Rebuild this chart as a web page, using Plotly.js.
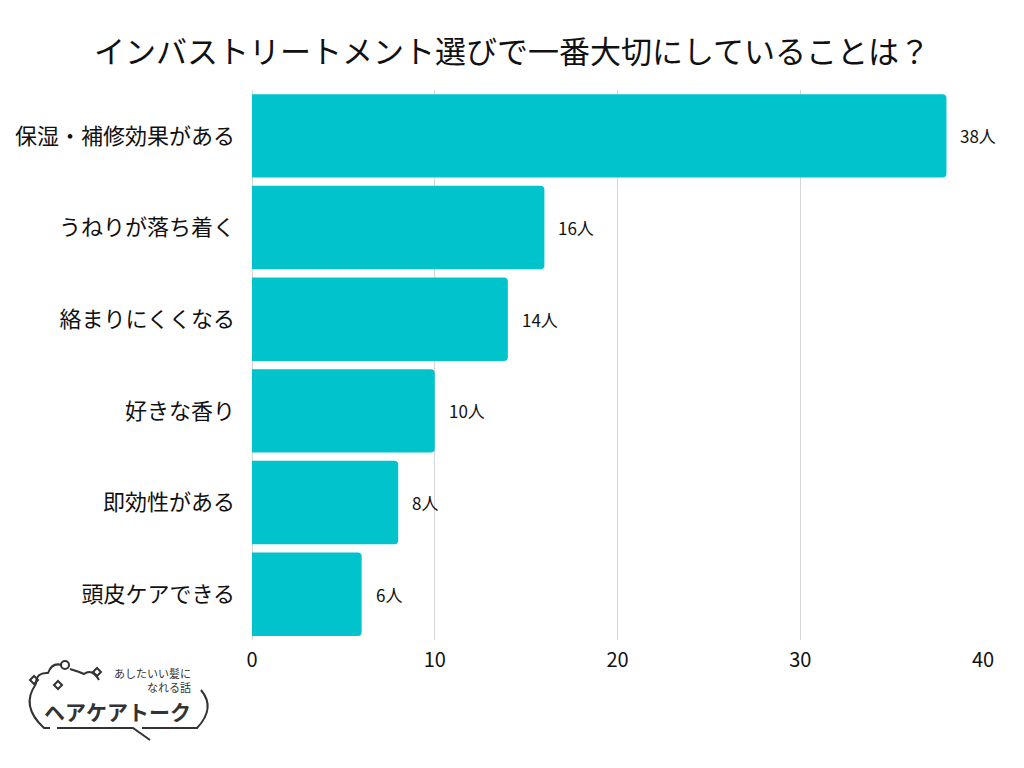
<!DOCTYPE html>
<html>
<head>
<meta charset="utf-8">
<script src="https://cdn.plot.ly/plotly-3.0.1.min.js"></script>
<style>
  html, body { margin: 0; padding: 0; background: #fff; }
  #chart { width: 1024px; height: 768px; }
</style>
</head>
<body>
<div id="chart"></div>
<script>
// 回答項目と人数
const categories = ['保湿・補修効果がある', 'うねりが落ち着く', '絡まりにくくなる', '好きな香り', '即効性がある', '頭皮ケアできる'];
const counts = [38, 16, 14, 10, 8, 6];
const unit = '人';
const tickValues = [0, 10, 20, 30, 40];

const FONT = '"Noto Sans CJK JP", "Noto Sans", sans-serif';
const BAR_COLOR = '#00c3cb';

// plot area in pixels (for placing the logo in paper coords)
const M = { l: 252, r: 41, t: 90, b: 128 };
const W = 1024, H = 768;
const PW = W - M.l - M.r, PH = H - M.t - M.b;
const px = x => (x - M.l) / PW;
const py = y => (H - M.b - y) / PH;
function path(cmds) {
    // cmds: [['M', x, y], ['Q', cx, cy, x, y], ...] in pixels
    return cmds.map(c => {
        const op = c[0], pts = [];
        for (let i = 1; i < c.length; i += 2) pts.push(px(c[i]).toFixed(4) + ',' + py(c[i + 1]).toFixed(4));
        return op + ' ' + pts.join(' ');
    }).join(' ');
}

const trace = {
    type: 'bar',
    orientation: 'h',
    y: categories,
    x: counts,
    marker: { color: BAR_COLOR },
    hoverinfo: 'none'
};

const annotations = counts.map((v, i) => ({
    x: v, y: categories[i],
    xref: 'x', yref: 'y',
    text: v + unit,
    showarrow: false,
    xanchor: 'left',
    xshift: 12,
    font: { family: FONT, size: 17, color: '#111' }
}));

// logo texts
const logoLine = { color: '#333', width: 2 };
annotations.push(
    { xref: 'paper', yref: 'paper', x: px(193), y: py(673), xanchor: 'right', yanchor: 'middle',
      text: 'あしたいい髪に', showarrow: false, font: { family: FONT, size: 11, color: '#333' } },
    { xref: 'paper', yref: 'paper', x: px(193), y: py(687), xanchor: 'right', yanchor: 'middle',
      text: 'なれる話', showarrow: false, font: { family: FONT, size: 11, color: '#333' } },
    { xref: 'paper', yref: 'paper', x: px(117), y: py(711), xanchor: 'center', yanchor: 'middle',
      text: '<b>ヘアケアトーク</b>', showarrow: false, font: { family: FONT, size: 21, color: '#333' } }
);

const shapes = [
    // cloud outline, left side and bottom
    { type: 'path', xref: 'paper', yref: 'paper', line: logoLine,
      path: path([['M', 36, 684], ['Q', 20, 706, 44, 728], ['L', 50, 728], ['M', 57, 728], ['L', 133, 728], ['L', 150, 740], ['M', 142, 728], ['L', 197, 728], ['Q', 216, 708, 201, 690]]) },
    // top bumps
    { type: 'path', xref: 'paper', yref: 'paper', line: logoLine,
      path: path([['M', 36, 684], ['Q', 36, 672, 48, 673], ['Q', 52, 662, 62, 665], ['M', 70, 669], ['Q', 80, 672, 84, 674], ['Q', 92, 668, 99, 680]]) },
    // small circle
    { type: 'circle', xref: 'paper', yref: 'paper', line: logoLine,
      x0: px(61), x1: px(69), y0: py(661), y1: py(669) },
    // diamonds
    { type: 'path', xref: 'paper', yref: 'paper', line: logoLine,
      path: path([['M', 34, 676], ['L', 38, 680], ['L', 34, 684], ['L', 30, 680], ['Z']]) },
    { type: 'path', xref: 'paper', yref: 'paper', line: logoLine,
      path: path([['M', 58, 681], ['L', 62, 685], ['L', 58, 689], ['L', 54, 685], ['Z']]) },
    { type: 'path', xref: 'paper', yref: 'paper', line: logoLine,
      path: path([['M', 97, 668], ['L', 101, 672], ['L', 97, 676], ['L', 93, 672], ['Z']]) }
];

const layout = {
    width: W, height: H,
    margin: M,
    paper_bgcolor: '#fff',
    plot_bgcolor: '#fff',
    showlegend: false,
    bargap: 0.09,
    barcornerradius: 4,
    title: {
        text: 'インバストリートメント選びで一番大切にしていることは？',
        font: { family: FONT, size: 31, color: '#111' },
        x: 0.5, xref: 'container', xanchor: 'center',
        y: 1 - 52 / H, yanchor: 'middle'
    },
    xaxis: {
        range: [0, 40],
        tickvals: tickValues,
        showgrid: true,
        gridcolor: '#d6d6d6',
        gridwidth: 1,
        zeroline: true,
        zerolinecolor: '#d6d6d6',
        showline: false,
        ticks: '',
        ticklen: 0,
        ticklabelstandoff: 6,
        tickfont: { family: FONT, size: 20, color: '#111' },
        fixedrange: true
    },
    yaxis: {
        autorange: 'reversed',
        ticks: '',
        ticklabelstandoff: 16,
        tickfont: { family: FONT, size: 22, color: '#111' },
        showgrid: false,
        fixedrange: true
    },
    annotations: annotations,
    shapes: shapes
};

Plotly.newPlot('chart', [trace], layout, { staticPlot: true, displayModeBar: false });
</script>
</body>
</html>
